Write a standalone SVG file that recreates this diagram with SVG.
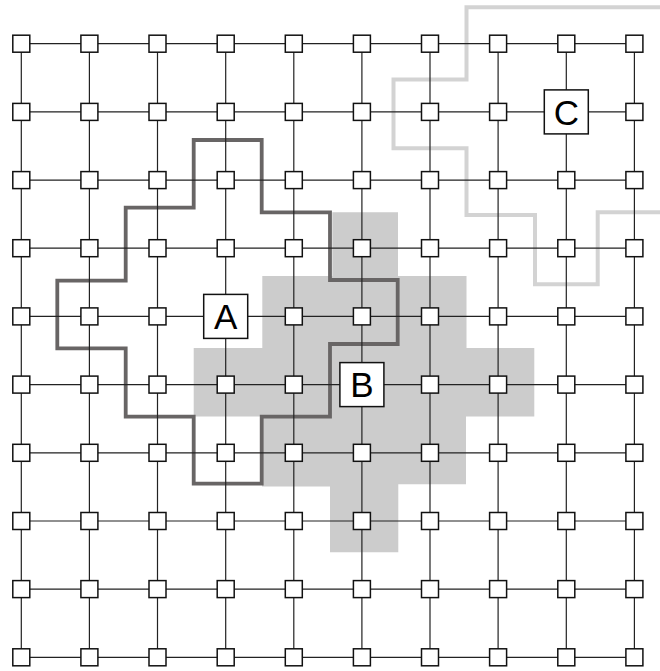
<svg xmlns="http://www.w3.org/2000/svg" width="660" height="671" viewBox="0 0 660 671">
<style>
.n{fill:#fff;stroke:#111;stroke-width:1.5}
.L{fill:#fff;stroke:#111;stroke-width:1.5}
.t{font-family:"Liberation Sans",Arial,sans-serif;font-size:35px;fill:#000;text-anchor:middle}
.g{stroke:#222;stroke-width:1.2;fill:none}
</style>
<rect width="660" height="671" fill="#fff"/>
<g id="regions">
<path id="regionB" d="M332.3,212.3 H398 V276 H466.5 V348 H534.3 V416.5 H466 V484.3 H398.3 V552.3 H330 V486.5 H262 V416.5 H193.7 V348 H262.3 V276 H332.3 Z" fill="#cccccc"/>
<path id="regionC" d="M660,7.3 H466.5 V79.5 H393.5 V148.3 H466.5 V215 H535 V284.3 H597.7 V212.3 H660" fill="none" stroke="#d3d3d3" stroke-width="4"/>
<path id="regionA" d="M193.7,140 H261.7 V212.3 H330 V280 H397.7 V344 H330 V416.7 H261.7 V483.7 H193.7 V416.7 H125.7 V348.3 H57.3 V280.7 H125.7 V207.7 H193.7 Z" fill="none" stroke="#686565" stroke-width="3.8"/>
</g>
<g id="connectors" class="g">
<path d="M21.3,43.7H634.4M21.3,111.9H634.4M21.3,180.1H634.4M21.3,248.2H634.4M21.3,316.4H634.4M21.3,384.6H634.4M21.3,452.8H634.4M21.3,521H634.4M21.3,589.1H634.4M21.3,657.3H634.4"/>
<path d="M21.3,43.7V657.3M89.4,43.7V657.3M157.5,43.7V657.3M225.7,43.7V657.3M293.8,43.7V657.3M361.9,43.7V657.3M430,43.7V657.3M498.1,43.7V657.3M566.3,43.7V657.3M634.4,43.7V657.3"/>
</g>
<g id="nodes">
<g id="n0-0"><rect class="n" x="12.8" y="35.2" width="17" height="17"/></g>
<g id="n0-1"><rect class="n" x="80.9" y="35.2" width="17" height="17"/></g>
<g id="n0-2"><rect class="n" x="149" y="35.2" width="17" height="17"/></g>
<g id="n0-3"><rect class="n" x="217.2" y="35.2" width="17" height="17"/></g>
<g id="n0-4"><rect class="n" x="285.3" y="35.2" width="17" height="17"/></g>
<g id="n0-5"><rect class="n" x="353.4" y="35.2" width="17" height="17"/></g>
<g id="n0-6"><rect class="n" x="421.5" y="35.2" width="17" height="17"/></g>
<g id="n0-7"><rect class="n" x="489.6" y="35.2" width="17" height="17"/></g>
<g id="n0-8"><rect class="n" x="557.8" y="35.2" width="17" height="17"/></g>
<g id="n0-9"><rect class="n" x="625.9" y="35.2" width="17" height="17"/></g>

<g id="n1-0"><rect class="n" x="12.8" y="103.4" width="17" height="17"/></g>
<g id="n1-1"><rect class="n" x="80.9" y="103.4" width="17" height="17"/></g>
<g id="n1-2"><rect class="n" x="149" y="103.4" width="17" height="17"/></g>
<g id="n1-3"><rect class="n" x="217.2" y="103.4" width="17" height="17"/></g>
<g id="n1-4"><rect class="n" x="285.3" y="103.4" width="17" height="17"/></g>
<g id="n1-5"><rect class="n" x="353.4" y="103.4" width="17" height="17"/></g>
<g id="n1-6"><rect class="n" x="421.5" y="103.4" width="17" height="17"/></g>
<g id="n1-7"><rect class="n" x="489.6" y="103.4" width="17" height="17"/></g>
<g id="nodeC"><rect class="L" x="544.3" y="89.9" width="44" height="44"/><text class="t" x="566.3" y="124.6">C</text></g>
<g id="n1-9"><rect class="n" x="625.9" y="103.4" width="17" height="17"/></g>

<g id="n2-0"><rect class="n" x="12.8" y="171.6" width="17" height="17"/></g>
<g id="n2-1"><rect class="n" x="80.9" y="171.6" width="17" height="17"/></g>
<g id="n2-2"><rect class="n" x="149" y="171.6" width="17" height="17"/></g>
<g id="n2-3"><rect class="n" x="217.2" y="171.6" width="17" height="17"/></g>
<g id="n2-4"><rect class="n" x="285.3" y="171.6" width="17" height="17"/></g>
<g id="n2-5"><rect class="n" x="353.4" y="171.6" width="17" height="17"/></g>
<g id="n2-6"><rect class="n" x="421.5" y="171.6" width="17" height="17"/></g>
<g id="n2-7"><rect class="n" x="489.6" y="171.6" width="17" height="17"/></g>
<g id="n2-8"><rect class="n" x="557.8" y="171.6" width="17" height="17"/></g>
<g id="n2-9"><rect class="n" x="625.9" y="171.6" width="17" height="17"/></g>

<g id="n3-0"><rect class="n" x="12.8" y="239.7" width="17" height="17"/></g>
<g id="n3-1"><rect class="n" x="80.9" y="239.7" width="17" height="17"/></g>
<g id="n3-2"><rect class="n" x="149" y="239.7" width="17" height="17"/></g>
<g id="n3-3"><rect class="n" x="217.2" y="239.7" width="17" height="17"/></g>
<g id="n3-4"><rect class="n" x="285.3" y="239.7" width="17" height="17"/></g>
<g id="n3-5"><rect class="n" x="353.4" y="239.7" width="17" height="17"/></g>
<g id="n3-6"><rect class="n" x="421.5" y="239.7" width="17" height="17"/></g>
<g id="n3-7"><rect class="n" x="489.6" y="239.7" width="17" height="17"/></g>
<g id="n3-8"><rect class="n" x="557.8" y="239.7" width="17" height="17"/></g>
<g id="n3-9"><rect class="n" x="625.9" y="239.7" width="17" height="17"/></g>

<g id="n4-0"><rect class="n" x="12.8" y="307.9" width="17" height="17"/></g>
<g id="n4-1"><rect class="n" x="80.9" y="307.9" width="17" height="17"/></g>
<g id="n4-2"><rect class="n" x="149" y="307.9" width="17" height="17"/></g>
<g id="nodeA"><rect class="L" x="203.7" y="294.4" width="44" height="44"/><text class="t" x="225.7" y="329.2">A</text></g>
<g id="n4-4"><rect class="n" x="285.3" y="307.9" width="17" height="17"/></g>
<g id="n4-5"><rect class="n" x="353.4" y="307.9" width="17" height="17"/></g>
<g id="n4-6"><rect class="n" x="421.5" y="307.9" width="17" height="17"/></g>
<g id="n4-7"><rect class="n" x="489.6" y="307.9" width="17" height="17"/></g>
<g id="n4-8"><rect class="n" x="557.8" y="307.9" width="17" height="17"/></g>
<g id="n4-9"><rect class="n" x="625.9" y="307.9" width="17" height="17"/></g>

<g id="n5-0"><rect class="n" x="12.8" y="376.1" width="17" height="17"/></g>
<g id="n5-1"><rect class="n" x="80.9" y="376.1" width="17" height="17"/></g>
<g id="n5-2"><rect class="n" x="149" y="376.1" width="17" height="17"/></g>
<g id="n5-3"><rect class="n" x="217.2" y="376.1" width="17" height="17"/></g>
<g id="n5-4"><rect class="n" x="285.3" y="376.1" width="17" height="17"/></g>
<g id="nodeB"><rect class="L" x="339.9" y="362.6" width="44" height="44"/><text class="t" x="361.9" y="397.4">B</text></g>
<g id="n5-6"><rect class="n" x="421.5" y="376.1" width="17" height="17"/></g>
<g id="n5-7"><rect class="n" x="489.6" y="376.1" width="17" height="17"/></g>
<g id="n5-8"><rect class="n" x="557.8" y="376.1" width="17" height="17"/></g>
<g id="n5-9"><rect class="n" x="625.9" y="376.1" width="17" height="17"/></g>

<g id="n6-0"><rect class="n" x="12.8" y="444.3" width="17" height="17"/></g>
<g id="n6-1"><rect class="n" x="80.9" y="444.3" width="17" height="17"/></g>
<g id="n6-2"><rect class="n" x="149" y="444.3" width="17" height="17"/></g>
<g id="n6-3"><rect class="n" x="217.2" y="444.3" width="17" height="17"/></g>
<g id="n6-4"><rect class="n" x="285.3" y="444.3" width="17" height="17"/></g>
<g id="n6-5"><rect class="n" x="353.4" y="444.3" width="17" height="17"/></g>
<g id="n6-6"><rect class="n" x="421.5" y="444.3" width="17" height="17"/></g>
<g id="n6-7"><rect class="n" x="489.6" y="444.3" width="17" height="17"/></g>
<g id="n6-8"><rect class="n" x="557.8" y="444.3" width="17" height="17"/></g>
<g id="n6-9"><rect class="n" x="625.9" y="444.3" width="17" height="17"/></g>

<g id="n7-0"><rect class="n" x="12.8" y="512.5" width="17" height="17"/></g>
<g id="n7-1"><rect class="n" x="80.9" y="512.5" width="17" height="17"/></g>
<g id="n7-2"><rect class="n" x="149" y="512.5" width="17" height="17"/></g>
<g id="n7-3"><rect class="n" x="217.2" y="512.5" width="17" height="17"/></g>
<g id="n7-4"><rect class="n" x="285.3" y="512.5" width="17" height="17"/></g>
<g id="n7-5"><rect class="n" x="353.4" y="512.5" width="17" height="17"/></g>
<g id="n7-6"><rect class="n" x="421.5" y="512.5" width="17" height="17"/></g>
<g id="n7-7"><rect class="n" x="489.6" y="512.5" width="17" height="17"/></g>
<g id="n7-8"><rect class="n" x="557.8" y="512.5" width="17" height="17"/></g>
<g id="n7-9"><rect class="n" x="625.9" y="512.5" width="17" height="17"/></g>

<g id="n8-0"><rect class="n" x="12.8" y="580.6" width="17" height="17"/></g>
<g id="n8-1"><rect class="n" x="80.9" y="580.6" width="17" height="17"/></g>
<g id="n8-2"><rect class="n" x="149" y="580.6" width="17" height="17"/></g>
<g id="n8-3"><rect class="n" x="217.2" y="580.6" width="17" height="17"/></g>
<g id="n8-4"><rect class="n" x="285.3" y="580.6" width="17" height="17"/></g>
<g id="n8-5"><rect class="n" x="353.4" y="580.6" width="17" height="17"/></g>
<g id="n8-6"><rect class="n" x="421.5" y="580.6" width="17" height="17"/></g>
<g id="n8-7"><rect class="n" x="489.6" y="580.6" width="17" height="17"/></g>
<g id="n8-8"><rect class="n" x="557.8" y="580.6" width="17" height="17"/></g>
<g id="n8-9"><rect class="n" x="625.9" y="580.6" width="17" height="17"/></g>

<g id="n9-0"><rect class="n" x="12.8" y="648.8" width="17" height="17"/></g>
<g id="n9-1"><rect class="n" x="80.9" y="648.8" width="17" height="17"/></g>
<g id="n9-2"><rect class="n" x="149" y="648.8" width="17" height="17"/></g>
<g id="n9-3"><rect class="n" x="217.2" y="648.8" width="17" height="17"/></g>
<g id="n9-4"><rect class="n" x="285.3" y="648.8" width="17" height="17"/></g>
<g id="n9-5"><rect class="n" x="353.4" y="648.8" width="17" height="17"/></g>
<g id="n9-6"><rect class="n" x="421.5" y="648.8" width="17" height="17"/></g>
<g id="n9-7"><rect class="n" x="489.6" y="648.8" width="17" height="17"/></g>
<g id="n9-8"><rect class="n" x="557.8" y="648.8" width="17" height="17"/></g>
<g id="n9-9"><rect class="n" x="625.9" y="648.8" width="17" height="17"/></g>
</g>
</svg>
